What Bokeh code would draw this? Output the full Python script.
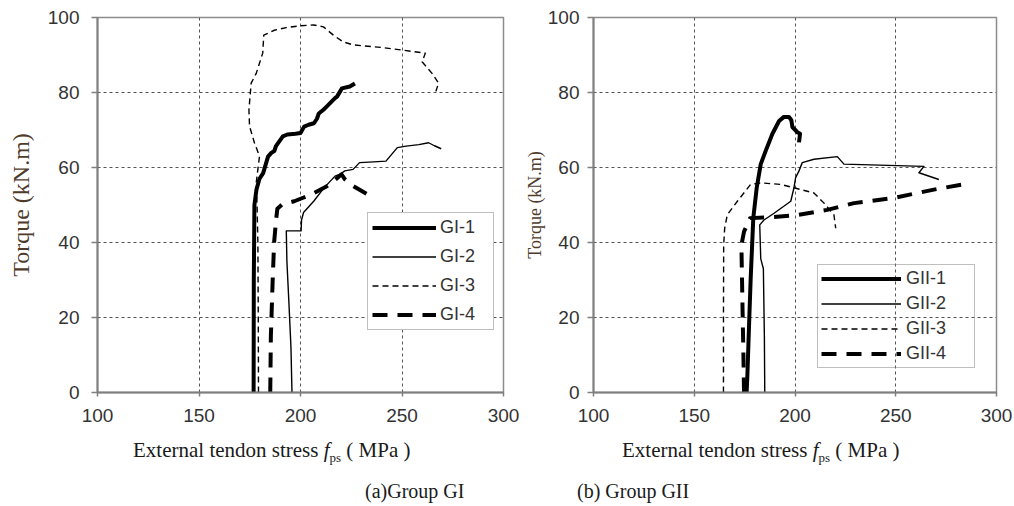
from bokeh.plotting import figure
from bokeh.models import Legend, LegendItem, FixedTicker, Div
from bokeh.layouts import row, column
from bokeh.embed import file_html
from bokeh.resources import INLINE

# ---- data ----
gi1_x = [176.9, 177.0, 177.3, 178.3, 179.8, 181.6, 184.0, 185.6, 187.1, 187.9, 191.3, 193.5, 197.5, 200.0, 201.8, 204.0, 206.6, 208.1, 209.0, 211.3, 213.0, 217.0, 218.0, 220.4, 224.3, 226.8]
gi1_y = [0, 30.0, 50.0, 54.1, 57.0, 58.5, 62.9, 63.9, 64.4, 65.7, 68.3, 68.8, 69.0, 69.2, 70.9, 71.4, 71.8, 73.0, 74.4, 75.4, 76.3, 78.5, 78.9, 81.1, 81.6, 82.4]

gi2_x = [195.8, 195.3, 194.2, 193.3, 193.0, 195.5, 200.3, 200.5, 201.5, 206.5, 211.5, 217.0, 219.5, 221.8, 225.9, 229.1, 236.0, 242.1, 247.7, 252.0, 258.3, 263.1, 266.0, 269.3]
gi2_y = [0, 12.0, 25.0, 35.0, 43.1, 43.1, 43.1, 46.0, 48.0, 51.0, 54.5, 57.7, 58.2, 59.1, 59.5, 61.3, 61.5, 61.7, 65.3, 65.7, 66.1, 66.6, 65.8, 65.0]

gi3_x = [179.3, 179.2, 179.0, 178.6, 178.2, 179.8, 177.3, 174.9, 174.6, 175.7, 178.2, 181.4, 181.9, 187.1, 193.0, 200.0, 206.5, 211.3, 216.2, 221.0, 225.9, 240.0, 250.2, 261.5, 259.9, 264.8, 268.0, 266.7]
gi3_y = [0, 20.0, 40.0, 50.0, 56.0, 63.0, 66.6, 71.0, 75.4, 82.5, 85.1, 90.5, 95.3, 96.6, 97.3, 97.8, 98.0, 97.5, 95.3, 93.5, 92.7, 92.0, 91.3, 90.5, 88.2, 85.1, 82.5, 80.3]

gi4_x = [185.1, 185.4, 186.3, 187.0, 188.0, 188.6, 191.0, 196.9, 201.6, 206.0, 213.0, 216.2, 220.2, 221.8, 225.9, 232.5]
gi4_y = [0, 15.0, 30.0, 40.0, 46.2, 49.0, 50.2, 51.0, 52.0, 53.0, 55.0, 56.3, 58.2, 56.9, 55.1, 53.0]

gii1_x = [176.0, 176.4, 177.2, 178.0, 179.3, 181.0, 183.0, 185.5, 188.8, 192.1, 194.5, 197.0, 198.2, 198.7, 201.2, 202.5, 202.0]
gii1_y = [0, 5.0, 18.0, 30.3, 46.5, 54.6, 60.9, 64.5, 69.0, 72.4, 73.5, 73.5, 72.6, 70.8, 69.4, 69.0, 66.7]

gii2_x = [185.0, 184.8, 184.3, 183.0, 182.5, 184.6, 189.6, 197.9, 199.5, 200.3, 202.0, 203.6, 209.4, 221.0, 224.3, 264.0, 261.5, 271.4]
gii2_y = [0, 15.0, 33.0, 35.7, 44.7, 46.0, 47.8, 51.0, 54.6, 57.3, 59.1, 61.3, 62.2, 62.9, 60.9, 60.3, 58.6, 56.8]

gii3_x = [164.5, 164.5, 164.6, 165.1, 166.4, 171.4, 178.0, 183.0, 192.9, 199.5, 209.4, 214.4, 219.3, 220.2]
gii3_y = [0, 20.0, 39.3, 43.8, 47.4, 51.0, 55.5, 55.9, 55.5, 54.6, 53.2, 50.5, 47.4, 43.8]

gii4_x = [174.7, 174.4, 174.0, 173.4, 174.7, 177.7, 186.3, 199.5, 216.0, 229.3, 249.1, 268.9, 285.5]
gii4_y = [0, 10.0, 21.3, 39.3, 42.9, 46.5, 46.7, 47.2, 48.7, 50.5, 51.9, 54.1, 55.7]

x_ticks = [100, 150, 200, 250, 300]
y_ticks = [0, 20, 40, 60, 80, 100]
labels_a = ["GI-1", "GI-2", "GI-3", "GI-4"]
labels_b = ["GII-1", "GII-2", "GII-3", "GII-4"]

STYLES = [
    dict(line_width=4, line_dash="solid"),
    dict(line_width=1.4, line_dash="solid"),
    dict(line_width=1.4, line_dash="6 4"),
    dict(line_width=4, line_dash="15 10"),
]

AX = "#7f7f7f"
YLAB = "#4f3b2c"


def make_fig(width, height, bl, br, bt, bb, y_out, y_std, ylab_size, ylab_std):
    p = figure(width=width, height=height, x_range=(100, 300), y_range=(0, 100),
               output_backend="svg", toolbar_location=None,
               min_border_left=bl, min_border_right=br, min_border_top=bt, min_border_bottom=bb,
               background_fill_color="white", border_fill_color="white")
    p.outline_line_color = "#8c8c8c"
    p.outline_line_width = 1.5
    for ax in (p.xaxis[0], p.yaxis[0]):
        ax.axis_line_color = AX
        ax.axis_line_width = 2
        ax.major_tick_line_color = AX
        ax.major_tick_line_width = 1.5
        ax.minor_tick_line_color = None
        ax.major_tick_in = 0
        ax.major_label_text_font = "Liberation Sans"
        ax.major_label_text_font_size = "19px"
        ax.major_label_text_color = "#333333"
    p.xaxis[0].ticker = FixedTicker(ticks=x_ticks)
    p.yaxis[0].ticker = FixedTicker(ticks=y_ticks)
    p.xaxis[0].major_tick_out = 4
    p.yaxis[0].major_tick_out = y_out
    p.xaxis[0].major_label_standoff = 12
    p.yaxis[0].major_label_standoff = y_std
    p.yaxis[0].axis_label = "Torque (kN.m)"
    p.yaxis[0].axis_label_text_font = "Liberation Serif"
    p.yaxis[0].axis_label_text_font_style = "normal"
    p.yaxis[0].axis_label_text_font_size = ylab_size
    p.yaxis[0].axis_label_text_color = YLAB
    p.yaxis[0].axis_label_standoff = ylab_std
    for g in (p.xgrid[0], p.ygrid[0]):
        g.grid_line_color = "#555555"
        g.grid_line_width = 1
        g.grid_line_dash = "3 3"
    p.xgrid[0].ticker = FixedTicker(ticks=x_ticks)
    p.ygrid[0].ticker = FixedTicker(ticks=y_ticks)
    return p


# ---- left panel (a) ----
p1 = make_fig(519, 440, 97, 16, 17, 48, 6, 12, "24px", 11)
series_a = [(gi1_x, gi1_y), (gi2_x, gi2_y), (gi3_x, gi3_y), (gi4_x, gi4_y)]
items_a = []
for (xs, ys), st, lab in zip(series_a, STYLES, labels_a):
    r = p1.line(xs, ys, line_color="black", line_join="round", **st)
    items_a.append(LegendItem(label=lab, renderers=[r]))
leg1 = Legend(items=items_a, location=(270, 62), margin=0, padding=4,
              glyph_width=64, glyph_height=21, label_height=21, spacing=8,
              label_standoff=4, label_width=49,
              label_text_font="Liberation Sans", label_text_font_size="18px",
              label_text_color="#333333",
              border_line_color="#808080", border_line_width=1.5,
              background_fill_color="white", background_fill_alpha=1.0)
p1.add_layout(leg1, "center")

# ---- right panel (b) ----
p2 = make_fig(493, 440, 74, 16, 17, 48, 6, 8, "18px", 0)
series_b = [(gii1_x, gii1_y), (gii2_x, gii2_y), (gii3_x, gii3_y), (gii4_x, gii4_y)]
items_b = []
for (xs, ys), st, lab in zip(series_b, STYLES, labels_b):
    r = p2.line(xs, ys, line_color="black", line_join="round", **st)
    items_b.append(LegendItem(label=lab, renderers=[r]))
leg2 = Legend(items=items_b, location=(224, 24), margin=0, padding=3,
              glyph_width=80, glyph_height=21, label_height=21, spacing=4,
              label_standoff=5, label_width=65,
              label_text_font="Liberation Sans", label_text_font_size="18px",
              label_text_color="#333333",
              border_line_color="#808080", border_line_width=1.5,
              background_fill_alpha=0.0)
p2.add_layout(leg2, "center")

# ---- x labels and captions ----
xl = ("External tendon stress <i>f</i><sub style='font-size:13px'>ps</sub> ( MPa )")
html = (
    "<div style='position:relative;width:1012px;height:64px;"
    "font-family:\"Liberation Serif\";color:#1a1a1a;'>"
    "<span style='position:absolute;left:133px;top:0px;font-size:21px;line-height:21px;white-space:nowrap;'>" + xl + "</span>"
    "<span style='position:absolute;left:622px;top:0px;font-size:21px;line-height:21px;white-space:nowrap;'>" + xl + "</span>"
    "<span style='position:absolute;left:365px;top:41px;font-size:20px;line-height:20px;white-space:nowrap;'>(a)Group GI</span>"
    "<span style='position:absolute;left:577px;top:41px;font-size:20px;line-height:20px;white-space:nowrap;'>(b) Group GII</span>"
    "</div>"
)
div = Div(text=html, width=1012, height=64, margin=0)

layout = column(row(p1, p2), div)
open("out.html", "w").write(file_html(layout, INLINE))
